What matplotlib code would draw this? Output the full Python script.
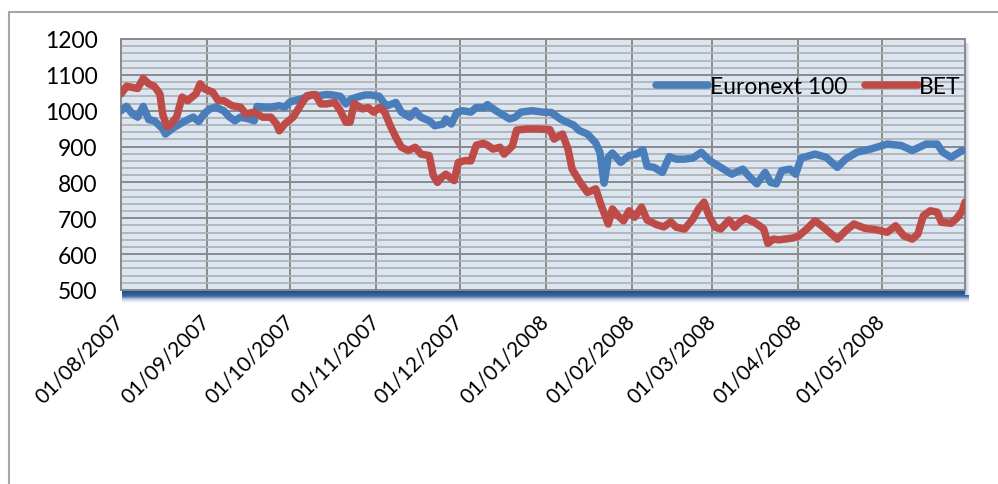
import numpy as np
import pandas as pd
import matplotlib
matplotlib.use('Agg')
import matplotlib.pyplot as plt
import matplotlib.dates as mdates
from matplotlib.patches import Rectangle
from matplotlib.colors import LinearSegmentedColormap

plt.rcParams['font.family'] = ['Lato', 'DejaVu Sans']

start = pd.Timestamp('2007-08-01')

# days since 01/08/2007
eu_days = [0, 2, 4, 6, 8, 10, 12, 15, 16, 19, 21, 24, 26, 28, 30, 32, 34, 37, 39, 41,
           43, 46, 48, 49, 52, 54, 57, 59, 61, 65, 69, 71, 74, 76, 79, 81, 83, 86, 88, 90,
           93, 95, 96, 99, 101, 104, 106, 108, 111, 113, 116, 117, 119, 121, 123, 126, 128, 131, 132, 135,
           137, 140, 142, 144, 148, 152, 155, 158, 160, 163, 165, 168, 171, 172.5, 174, 175.5, 177, 180, 183, 186,
           188, 189.5, 192, 195, 197.5, 200, 203, 206, 209, 212, 216, 220, 224, 226, 229, 232, 234, 236, 238, 241,
           243, 245, 250, 254, 258, 261, 265, 270, 276, 281, 285, 290, 294, 296, 299, 303]
eu_vals = [1000, 1012, 992, 982, 1012, 975, 972, 950, 935, 953, 962, 975, 982, 970, 992, 1005, 1010, 1000, 983, 972,
           982, 977, 972, 1012, 1010, 1010, 1014, 1010, 1025, 1033, 1045, 1042, 1045, 1044, 1040, 1019, 1033, 1040, 1044, 1044,
           1040, 1019, 1014, 1023, 996, 982, 1000, 982, 972, 958, 963, 977, 963, 996, 1000, 996, 1009, 1009, 1017, 1000,
           991, 977, 982, 996, 1000, 996, 995, 978, 970, 960, 945, 935, 910, 884, 798, 870, 882, 856, 875, 880,
           891, 845, 842, 828, 872, 865, 865, 868, 884, 861, 842, 823, 837, 819, 796, 828, 800, 796, 833, 837,
           823, 868, 879, 870, 842, 865, 884, 893, 907, 903, 889, 907, 907, 884, 870, 889]

bet_days = [0, 2, 4, 6, 8, 10, 12, 14, 15, 16.5, 18, 20, 22, 24, 27, 28.5, 30, 33, 35, 37,
            40, 43, 45, 48, 51, 54, 56, 57, 59, 62, 65, 67, 70, 72, 74, 77, 79, 81, 82.5, 84,
            87, 89, 91, 93, 95, 97, 99, 101, 103.5, 106, 108, 111, 112.5, 114, 115.5, 117, 120, 121.5, 124, 126,
            128, 130.5, 132, 134, 136.5, 138, 141, 142.5, 146, 150, 153, 154.5, 156, 159, 161, 162.5, 165, 168, 171, 173,
            175.5, 177, 179, 181, 183, 185, 187.5, 189.5, 193, 195.5, 198, 200, 203, 206, 208, 210, 212, 214, 216, 219,
            221, 223, 225, 228, 230, 231.5, 233, 235, 237, 239, 242, 244, 247, 250, 253.5, 258, 261, 264, 268, 272,
            276, 279, 282, 285, 287, 289, 291.5, 294, 295.5, 299, 301, 303, 304]
bet_vals = [1047, 1068, 1065, 1062, 1090, 1075, 1068, 1047, 991, 955, 963, 982, 1038, 1028, 1047, 1075, 1061, 1052, 1028, 1028,
            1014, 1010, 991, 996, 982, 982, 963, 944, 963, 982, 1019, 1042, 1045, 1019, 1019, 1023, 1000, 968, 968, 1020,
            1005, 1009, 996, 1009, 996, 958, 926, 898, 889, 898, 879, 875, 819, 800, 814, 823, 805, 856, 861, 860,
            904, 909, 904, 893, 898, 879, 902, 946, 949, 949, 948, 947, 921, 935, 893, 837, 805, 772, 782, 735,
            684, 726, 707, 693, 721, 703, 731, 695, 682, 676, 690, 675, 670, 698, 726, 745, 703, 675, 670, 695,
            675, 690, 700, 689, 679, 670, 630, 642, 640, 642, 645, 650, 670, 693, 672, 642, 665, 684, 672, 668,
            661, 679, 651, 642, 656, 707, 721, 717, 689, 686, 700, 720, 745]

month_ticks = ['2007-08-01', '2007-09-01', '2007-10-01', '2007-11-01', '2007-12-01',
               '2008-01-01', '2008-02-01', '2008-03-01', '2008-04-01', '2008-05-01']
y_ticks = [500, 600, 700, 800, 900, 1000, 1100, 1200]

eu_dates = start + pd.to_timedelta(eu_days, unit='D')
bet_dates = start + pd.to_timedelta(bet_days, unit='D')

W, H = 998, 485
fig = plt.figure(figsize=(W / 100, H / 100), dpi=100)

# outer chart border
fig.patches.append(Rectangle((9 / W, -0.2), 1.2, 1.2 - 13 / H, transform=fig.transFigure,
                             fill=False, edgecolor='#a6a6a6', lw=1.5))

# 3d floor under the plot area
floor = fig.add_axes([122 / W, 1 - 304 / H, (969 - 122) / W, 13 / H])
cm = LinearSegmentedColormap.from_list('floor', ['#1d3f70', '#2a5590', '#3d68a0', '#c5d3e6', '#ffffff'])
floor.imshow(np.linspace(0, 1, 60).reshape(-1, 1), aspect='auto', cmap=cm)
floor.axis('off')

# right side shadow
side = fig.add_axes([965 / W, 1 - 296 / H, 5 / W, (296 - 44) / H])
cm2 = LinearSegmentedColormap.from_list('side', ['#b4c6dd', '#ffffff'])
side.imshow(np.linspace(0, 1, 20).reshape(1, -1), aspect='auto', cmap=cm2)
side.axis('off')

ax = fig.add_axes([121 / W, 1 - 291 / H, (965 - 121) / W, (291 - 40) / H])
ax.set_facecolor('#dce6f2')

ax.plot(eu_dates, eu_vals, color='#4a7ebb', lw=5.4, solid_capstyle='round',
        solid_joinstyle='round', label='Euronext 100', zorder=3)
ax.plot(bet_dates, bet_vals, color='#be4b48', lw=5.4, solid_capstyle='round',
        solid_joinstyle='round', label='BET', zorder=4)

ax.set_xlim(pd.Timestamp('2007-08-01'), pd.Timestamp('2008-05-31'))
ax.set_ylim(500, 1200)
ax.set_yticks(y_ticks)
ax.set_yticks(np.arange(500, 1201, 20), minor=True)
ax.set_xticks(pd.to_datetime(month_ticks))
ax.xaxis.set_major_formatter(mdates.DateFormatter('%d/%m/%Y'))

ax.grid(which='minor', axis='y', color='#b2b2b2', lw=1.3, zorder=1)
ax.grid(which='major', axis='y', color='#8a8a8a', lw=1.4, zorder=2)
ax.grid(which='major', axis='x', color='#8a8a8a', lw=1.4, zorder=2)

ax.tick_params(which='both', length=0)
ax.tick_params(axis='y', labelsize=16.5, pad=17)
ax.tick_params(axis='x', labelsize=15, pad=20)
for lab in ax.get_xticklabels():
    lab.set_rotation(45)
    lab.set_ha('right')
    lab.set_va('center')
    lab.set_rotation_mode('anchor')

for sp in ax.spines.values():
    sp.set_color('#8a8a8a')
    sp.set_linewidth(1.4)

ax.legend(loc='center right', bbox_to_anchor=(0.995, 0.809), ncol=2, frameon=False,
          fontsize=16.5, handlelength=2.3, handletextpad=0.05, columnspacing=0.8,
          borderaxespad=0, borderpad=0)

fig.savefig('out.png', dpi=100)
